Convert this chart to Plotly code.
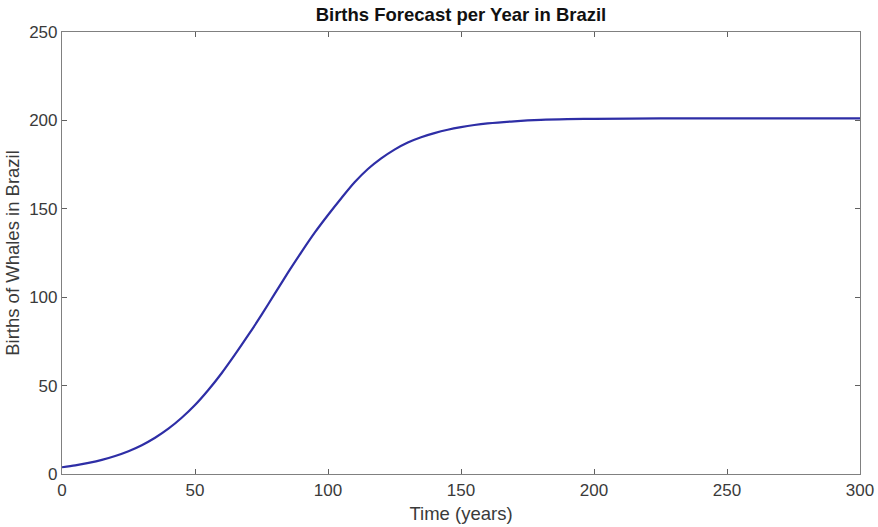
import plotly.graph_objects as go

years = [0, 5, 10, 15, 20, 25, 30, 35, 40, 45, 50, 55, 60, 65, 70, 75, 80, 85, 90, 95,
         100, 105, 110, 115, 120, 125, 130, 135, 140, 145, 150, 155, 160, 170, 180, 190,
         200, 225, 250, 275, 300]
births = [3.8, 4.9, 6.3, 8.0, 10.2, 12.9, 16.3, 20.5, 25.6, 31.8, 39.0, 47.5, 57.0, 67.5,
          78.5, 90.0, 102.0, 114.0, 125.5, 136.5, 146.5, 156.0, 165.0, 172.5, 178.5,
          183.5, 187.5, 190.5, 192.8, 194.7, 196.2, 197.4, 198.3, 199.5, 200.3, 200.7,
          200.9, 201.1, 201.1, 201.1, 201.1]

x_ticks = [0, 50, 100, 150, 200, 250, 300]
y_ticks = [0, 50, 100, 150, 200, 250]

FONT = "Liberation Sans, Arial, Helvetica, sans-serif"

fig = go.Figure()
fig.add_trace(go.Scatter(x=years, y=births, mode="lines",
                         line=dict(color="#2e2ea6", width=2.2, shape="spline", smoothing=0.8),
                         showlegend=False, hoverinfo="skip"))

axis_common = dict(showline=True, linecolor="#808080", linewidth=1.2, mirror="allticks",
                   ticks="inside", ticklen=5, tickwidth=1, tickcolor="#606060",
                   showgrid=False, zeroline=False, automargin=False,
                   tickfont=dict(family=FONT, size=17, color="#3a3a3a"))

fig.update_layout(
    width=878, height=527,
    margin=dict(l=62, r=18, t=32, b=53),
    paper_bgcolor="white", plot_bgcolor="white",
    title=dict(text="<b>Births Forecast per Year in Brazil</b>", x=0.525, xanchor="center",
               y=0.972, yanchor="middle",
               font=dict(family=FONT, size=18.5, color="#111111")),
    xaxis=dict(range=[0, 300], tickvals=x_ticks, ticktext=[str(v) for v in x_ticks],
               title=dict(text="Time (years)", standoff=8,
                          font=dict(family=FONT, size=18.5, color="#3a3a3a")),
               **axis_common),
    yaxis=dict(range=[0, 250], tickvals=y_ticks, ticktext=[str(v) for v in y_ticks],
               title=dict(text="Births of Whales in Brazil", standoff=4,
                          font=dict(family=FONT, size=18.5, color="#3a3a3a")),
               **axis_common),
)

fig.write_html("out.html")
